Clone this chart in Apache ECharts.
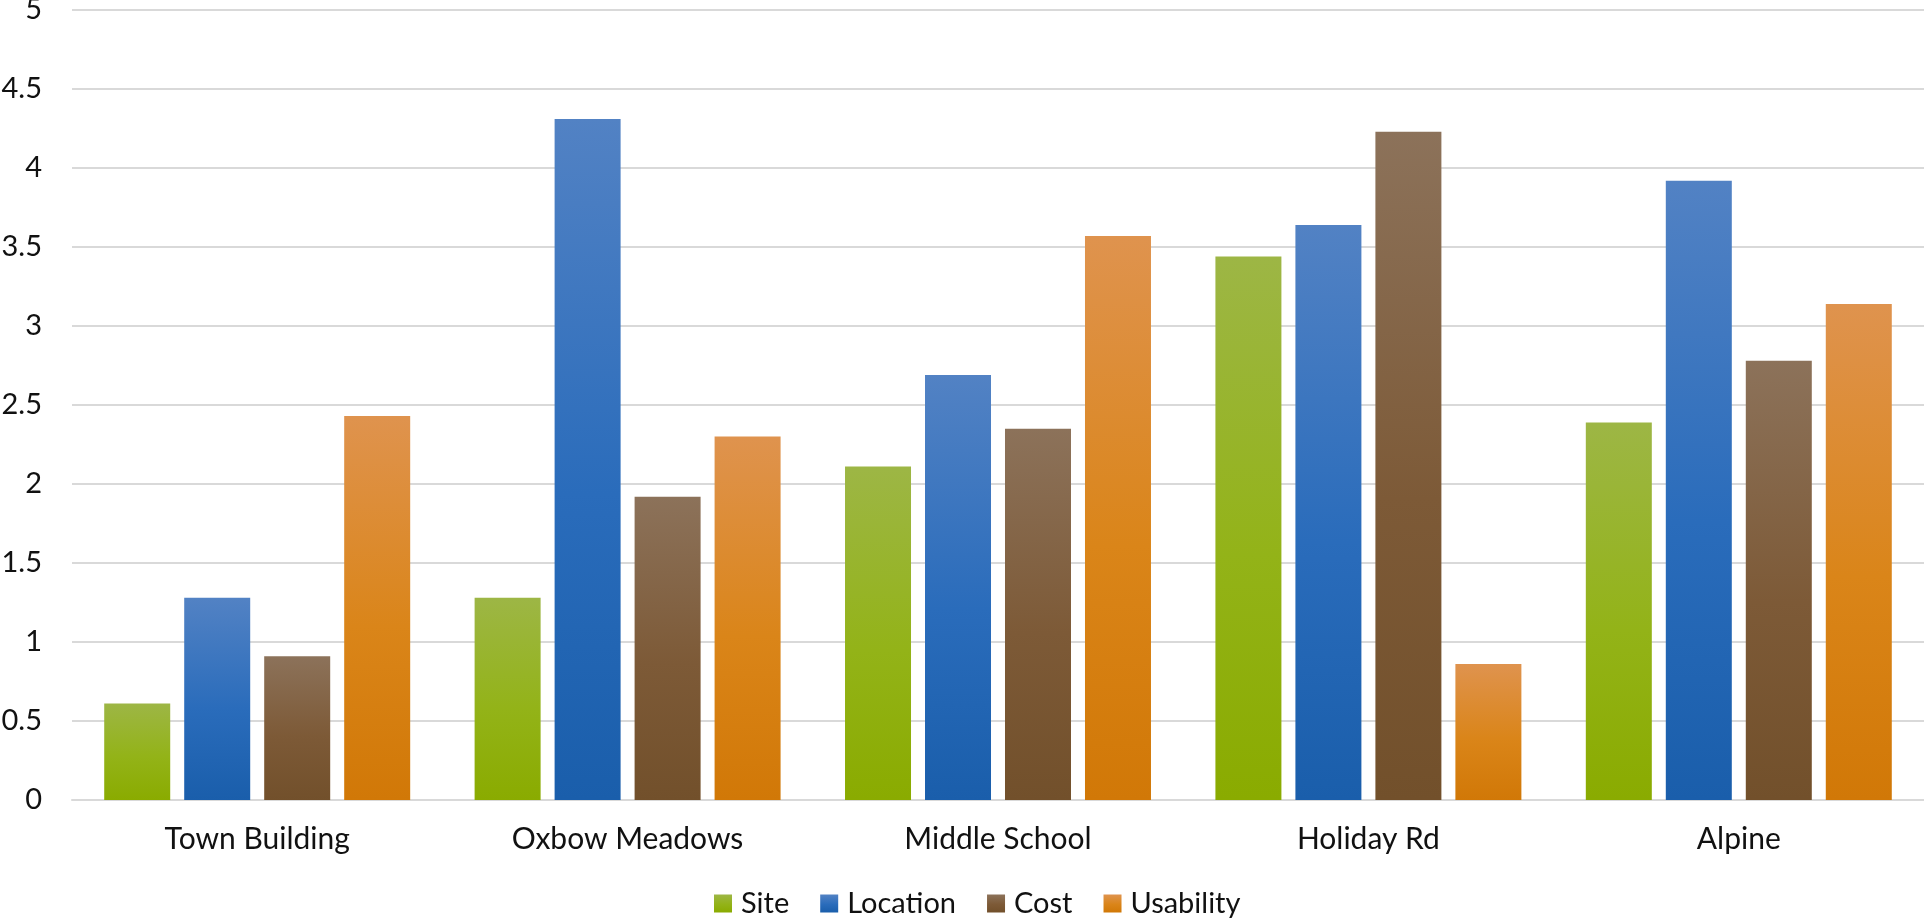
<!DOCTYPE html>
<html>
<head>
<meta charset="utf-8">
<script src="https://cdn.jsdelivr.net/npm/echarts@6/dist/echarts.min.js"></script>
<style>
html,body{margin:0;padding:0;background:#fff;}
#chart{width:1924px;height:923px;}
</style>
</head>
<body>
<div id="chart"></div>
<script>
const categories = ['Town Building', 'Oxbow Meadows', 'Middle School', 'Holiday Rd', 'Alpine'];
const seriesNames = ['Site', 'Location', 'Cost', 'Usability'];
const siteVals = [0.61, 1.28, 2.11, 3.44, 2.39];
const locationVals = [1.28, 4.31, 2.69, 3.64, 3.92];
const costVals = [0.91, 1.92, 2.35, 4.23, 2.78];
const usabilityVals = [2.43, 2.30, 3.57, 0.86, 3.14];
const yMin = 0, yMax = 5, yStep = 0.5;

const gradients = [
  ['#9db645', '#93b318', '#8aab00'],
  ['#5282c4', '#2a6cbb', '#1a5eab'],
  ['#8c725a', '#7d5a37', '#72502b'],
  ['#df934e', '#da8519', '#d17807']
];
function grad(c) {
  return new echarts.graphic.LinearGradient(0, 0, 0, 1, [
    {offset: 0, color: c[0]}, {offset: 0.55, color: c[1]}, {offset: 1, color: c[2]}
  ]);
}
const values = [siteVals, locationVals, costVals, usabilityVals];
const font = 'Lato';
const chart = echarts.init(document.getElementById('chart'), null, {renderer: 'canvas'});
chart.setOption({
  animation: false,
  backgroundColor: '#ffffff',
  grid: {left: 72, right: 0, top: 10, bottom: 123, containLabel: false, outerBoundsMode: 'none'},
  legend: {
    left: 709, top: 884,
    itemWidth: 18, itemHeight: 18, itemGap: 31,
    icon: 'rect',
    textStyle: {fontFamily: font, fontSize: 29, color: '#111', padding: [0, 0, 0, 4]},
    data: seriesNames
  },
  xAxis: {
    type: 'category',
    data: categories,
    axisLine: {show: true, lineStyle: {color: '#d9d9d9', width: 2}},
    axisTick: {show: false},
    axisLabel: {fontFamily: font, fontSize: 30, color: '#111', margin: 24}
  },
  yAxis: {
    type: 'value',
    min: yMin, max: yMax, interval: yStep,
    axisLine: {show: false},
    axisTick: {show: false},
    splitLine: {lineStyle: {color: '#d9d9d9', width: 2}},
    axisLabel: {fontFamily: font, fontSize: 29, color: '#111', margin: 30}
  },
  series: seriesNames.map((n, i) => ({
    name: n,
    type: 'bar',
    data: values[i],
    barWidth: 66,
    barGap: '21.2%',
    itemStyle: {color: grad(gradients[i])}
  }))
});
</script>
</body>
</html>
